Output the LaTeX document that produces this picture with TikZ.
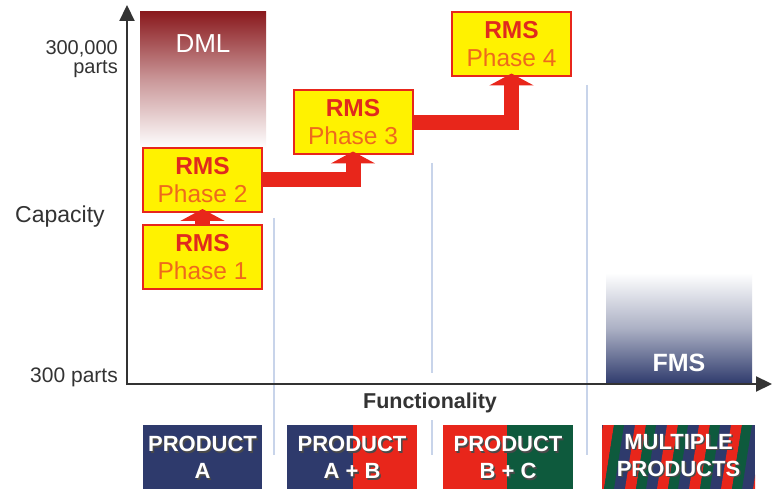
\documentclass[tikz,border=0pt]{standalone}
\usepackage{fontspec}
\setmainfont{Liberation Sans}
\usetikzlibrary{arrows.meta}
\definecolor{rmsred}{HTML}{E8261B}
\definecolor{rmstext}{HTML}{E02A1E}
\definecolor{phasetext}{HTML}{EE6A1C}
\definecolor{rmsyellow}{HTML}{FFF200}
\definecolor{navy}{HTML}{2E3A6C}
\definecolor{pgreen}{HTML}{0E5A3D}
\definecolor{pred}{HTML}{E8261B}
\definecolor{dmlred}{HTML}{8A1A1E}
\definecolor{guide}{HTML}{C8D4EA}
\definecolor{axisgray}{HTML}{333333}
\definecolor{shadowgray}{HTML}{4A4A4A}
\begin{document}
\begin{tikzpicture}[x=1pt,y=-1pt,
  rmsbox/.style={draw=rmsred, line width=2pt, fill=rmsyellow, minimum width=119pt,
    minimum height=64pt, inner sep=0pt, align=center, font=\fontsize{24.5}{28}\selectfont},
  flow/.style={draw=rmsred, line width=15pt, line join=miter, shorten >=-4pt,
    -{Triangle[width=44pt,length=12pt]}},
  guideline/.style={draw=guide, line width=1.6pt},
  axis/.style={draw=axisgray, line width=2.2pt, -{Triangle[width=15pt,length=16pt]}},
  axislabel/.style={inner sep=0pt, text=axisgray, font=\fontsize{20}{20}\selectfont},
  prodtxt/.style={inner sep=0pt, align=center, text=white, font=\bfseries\fontsize{22}{27}\selectfont},
  prodshadow/.style={prodtxt, text=shadowgray}
]
\useasboundingbox[fill=white] (0,0) rectangle (772,489);

% DML and FMS regions
\shade[top color=dmlred, bottom color=white, middle color=dmlred!45] (140,12) rectangle (266,148);
\node[inner sep=0pt, text=white, font=\fontsize{26}{26}\selectfont, anchor=base] (dml) at (203,53) {DML};
\shade[top color=white, bottom color=navy, middle color=navy!40] (606,273) rectangle (752,384);
\node[inner sep=0pt, text=white, font=\bfseries\fontsize{25}{25}\selectfont, anchor=base] (fms) at (679,371) {FMS};

% guide lines
\draw[guideline] (274,218) -- (274,455);
\draw[guideline] (432,163) -- (432,373);
\draw[guideline] (432,420) -- (432,455);
\draw[guideline] (587,85) -- (587,455);

% axes
\coordinate (origin) at (127,384);
\coordinate (ytip) at (127,5);
\coordinate (xtip) at (772,384);
\draw[axis] (127,385.1) -- (ytip);
\draw[axis] (126,384) -- (xtip);

\node[axislabel, anchor=base east] (ytop1) at (118,55) {300,000};
\node[axislabel, anchor=base east] (ytop2) at (118,74) {parts};
\node[axislabel, anchor=base west, font=\fontsize{23}{23}\selectfont] (ylab) at (15,223) {Capacity};
\node[axislabel, anchor=base east, font=\fontsize{21}{21}\selectfont] (ybot) at (118,383) {300 parts};
\node[axislabel, anchor=base, font=\bfseries\fontsize{21.5}{21.5}\selectfont] (xlab) at (430,408) {Functionality};

% RMS boxes
\node[rmsbox] (p1) at (202.5,257.5) {{\bfseries\color{rmstext}RMS}\\{\color{phasetext}Phase 1}};
\node[rmsbox] (p2) at (202.5,180) {{\bfseries\color{rmstext}RMS}\\{\color{phasetext}Phase 2}};
\node[rmsbox] (p3) at (353,122.5) {{\bfseries\color{rmstext}RMS}\\{\color{phasetext}Phase 3}};
\node[rmsbox] (p4) at (511.5,44.5) {{\bfseries\color{rmstext}RMS}\\{\color{phasetext}Phase 4}};

% flows
\draw[flow] (p1.north) -- (p2.south);
\draw[flow] (p2.east) -| (p3.south);
\draw[flow] (p3.east) -| (p4.south);

% product boxes
\fill[navy] (143,425) rectangle (262,489);
\fill[navy] (287,425) rectangle (353,489);
\fill[pred] (353,425) rectangle (417,489);
\fill[pred] (443,425) rectangle (507,489);
\fill[pgreen] (507,425) rectangle (573,489);
\begin{scope}
  \clip (602,425) rectangle (755,489);
  \fill[navy] (602,425) rectangle (755,489);
  \foreach \i in {0,...,6}{
    \pgfmathsetmacro{\xa}{592+32*\i}
    \fill[pred] (\xa+11,425) -- (\xa+22,425) -- (\xa+12,489) -- (\xa+1,489) -- cycle;
    \fill[pgreen] (\xa+22,425) -- (\xa+32,425) -- (\xa+22,489) -- (\xa+12,489) -- cycle;
  }
\end{scope}

\node[prodshadow] (sa) at (204,459) {PRODUCT\\A};
\node[prodtxt] (ta) at (202.5,457.5) {PRODUCT\\A};
\node[prodshadow] (sab) at (353.5,459) {PRODUCT\\A + B};
\node[prodtxt] (tab) at (352,457.5) {PRODUCT\\A + B};
\node[prodshadow] (sbc) at (509.5,459) {PRODUCT\\B + C};
\node[prodtxt] (tbc) at (508,457.5) {PRODUCT\\B + C};
\node[prodshadow] (sm) at (680,457) {MULTIPLE\\PRODUCTS};
\node[prodtxt] (tm) at (678.5,455.5) {MULTIPLE\\PRODUCTS};
\end{tikzpicture}
\end{document}
